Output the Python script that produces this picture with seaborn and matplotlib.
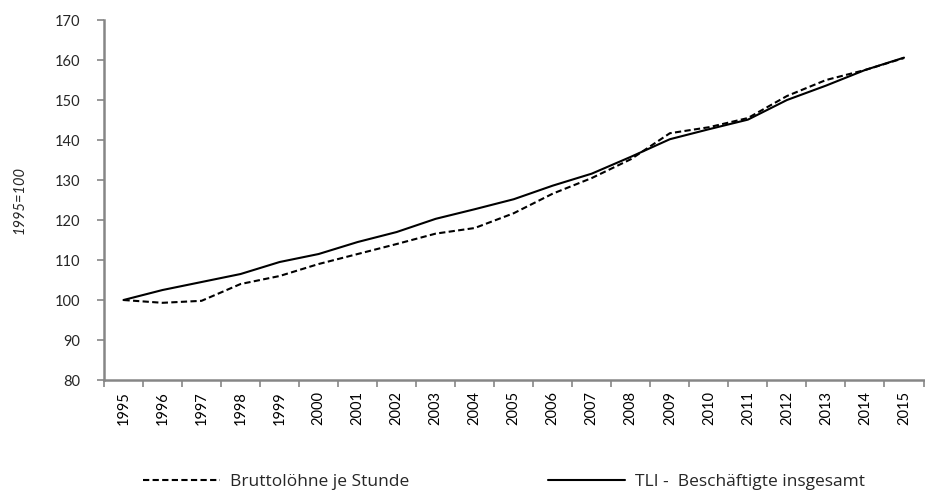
import matplotlib
matplotlib.use("Agg")
import matplotlib.pyplot as plt
import seaborn as sns
import pandas as pd
import numpy as np
from matplotlib.lines import Line2D

years = [str(y) for y in range(1995, 2016)]
brutto = [100, 99.3, 99.8, 104, 106, 109, 111.5, 114, 116.6, 118, 121.7,
          126.6, 130.5, 135.2, 141.7, 143.2, 145.5, 151, 155, 157.5, 160.5]
tli = [100, 102.5, 104.5, 106.5, 109.5, 111.5, 114.5, 117, 120.3, 122.7, 125.2,
       128.6, 131.6, 135.8, 140.2, 142.7, 145.1, 150, 153.6, 157.5, 160.6]
series_names = ["Bruttolöhne je Stunde", "TLI -  Beschäftigte insgesamt"]

sns.set_theme(style="white")
plt.rcParams['font.family'] = ['Lato', 'DejaVu Sans']

df = pd.DataFrame({
    "x": list(range(len(years))) * 2,
    "value": brutto + tli,
    "series": [series_names[0]] * len(years) + [series_names[1]] * len(years),
})

fig = plt.figure(figsize=(9.25, 5.01), dpi=100)
ax = fig.add_axes([0.1124, 0.2415, 0.886, 0.7185])

sns.lineplot(data=df, x="x", y="value", style="series", ax=ax,
             color="black", linewidth=1.5,
             dashes={series_names[0]: (3, 1.6), series_names[1]: ""},
             legend=False)

ax.set_xlim(-0.5, len(years) - 0.5)
ax.set_ylim(80, 170)
ax.set_yticks(range(80, 171, 10))
ax.set_xticks(range(len(years)))
ax.set_xticklabels(years, rotation=90)
ax.set_xticks(np.arange(-0.5, len(years), 1.0), minor=True)
ax.tick_params(axis='x', which='major', length=0, pad=8, labelsize=10.5, colors='#000000')
ax.tick_params(axis='x', which='minor', length=5, width=1.2, color='#868686', direction='out')
ax.tick_params(axis='y', length=5, width=1.2, color='#868686', direction='out', labelsize=10.5, pad=12)
ax.xaxis.set_tick_params(bottom=True, which='both')
ax.yaxis.set_tick_params(left=True)

for s in ['top', 'right']:
    ax.spines[s].set_visible(False)
for s in ['left', 'bottom']:
    ax.spines[s].set_color('#868686')
    ax.spines[s].set_linewidth(1.8)

ax.set_xlabel("")
ax.set_ylabel("1995=100", fontstyle='italic', fontsize=10.5, labelpad=20)

handles = [Line2D([], [], color='black', lw=1.5, dashes=(3, 1.6)),
           Line2D([], [], color='black', lw=1.5)]
fig.legend(handles, series_names, loc='lower center', bbox_to_anchor=(0.545, -0.01),
           ncol=2, frameon=False, handlelength=4.4, columnspacing=8.0,
           handletextpad=0.6, fontsize=12.5, prop={'family': ['Open Sans', 'DejaVu Sans'], 'size': 12.5})

fig.savefig("out.png", dpi=100)
